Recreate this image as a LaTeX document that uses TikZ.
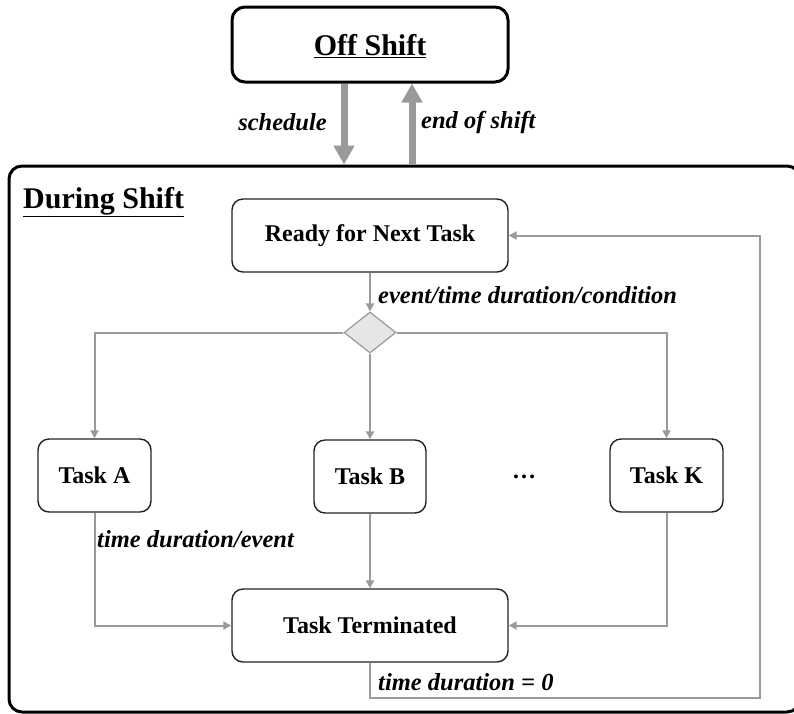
\documentclass[tikz,border=0pt]{standalone}
\usepackage{fontspec}
\setmainfont{Liberation Serif}
\usetikzlibrary{arrows.meta,shapes.geometric,calc}
\definecolor{linegray}{HTML}{9A9A9A}
\definecolor{boxline}{HTML}{222222}
\definecolor{diafill}{HTML}{E6E6E6}
\tikzset{
  bigbox/.style={draw=black, line width=3pt, rounded corners=13pt, fill=white},
  statebox/.style={draw=boxline, line width=1.4pt, rounded corners=11pt, fill=white,
    inner sep=0pt, font=\fontsize{24}{28}\selectfont\bfseries},
  conn/.style={draw=linegray, line width=2pt, -{Triangle[width=8pt,length=8pt]}},
  fatarrow/.style={draw=linegray, line width=7pt, -{Triangle[width=20pt,length=19pt]}},
  lbl/.style={inner sep=0pt, font=\fontsize{24.5}{28}\selectfont\bfseries\itshape},
  hdr/.style={inner sep=0pt, font=\fontsize{30}{34}\selectfont\bfseries},
  decision/.style={diamond, draw=linegray, line width=1.2pt, fill=diafill,
    minimum width=52pt, minimum height=41pt, inner sep=0pt}
}
\begin{document}
\begin{tikzpicture}[x=1pt,y=-1pt]
\useasboundingbox (0,0) rectangle (794,713);
\clip (0,0) rectangle (794,713);
% outer boxes
\node[bigbox, minimum width=791pt, minimum height=546pt, inner sep=0pt] (during) at (404.5,439) {};
\node[bigbox, minimum width=276pt, minimum height=75pt, inner sep=0pt] (off) at (370,44.5) {};
\node[hdr] (offlbl) at (370,46) {\underline{Off Shift}};
\node[hdr, anchor=west] (durlbl) at (23,202) {\underline{During Shift}};
% shift arrows
\coordinate (schx) at (344,0);
\coordinate (eosx) at (412,0);
\draw[fatarrow] (schx |- off.south) -- (schx |- during.north);
\draw[fatarrow] (eosx |- during.north) -- (eosx |- off.south);
\node[lbl, anchor=east] (schlbl) at (327,122) {schedule};
\node[lbl, anchor=west] (eoslbl) at (421,122) {end of shift};
% states
\node[statebox, minimum width=276pt, minimum height=73pt] (ready) at (370,235.5) {Ready for Next Task};
\node[decision] (dia) at (370,332.5) {};
\node[statebox, minimum width=113pt, minimum height=73pt] (A) at (94.5,475.5) {Task A};
\node[statebox, minimum width=112pt, minimum height=73pt] (B) at (370,476.5) {Task B};
\node[statebox, minimum width=113pt, minimum height=73pt] (K) at (666.5,475.5) {Task K};
\node[font=\fontsize{24}{28}\selectfont\bfseries, inner sep=0pt] (dots) at (524,477) {…};
\node[statebox, minimum width=276pt, minimum height=73pt] (term) at (370,625.5) {Task Terminated};
% connectors
\draw[conn] (ready.south) -- (dia.north);
\node[lbl, anchor=west] (evlbl) at (378,295) {event/time duration/condition};
\draw[conn] (dia.west) -| (A.north);
\draw[conn] (dia.south) -- (B.north);
\draw[conn] (dia.east) -| (K.north);
\draw[conn] (A.south) |- (term.west);
\draw[conn] (B.south) -- (term.north);
\draw[conn] (K.south) |- (term.east);
\node[lbl, anchor=west] (tdelbl) at (97,539) {time duration/event};
\coordinate (loopbr) at (760,698);
\draw[conn] (term.south) |- (loopbr) |- (ready.east);
\node[lbl, anchor=west] (td0lbl) at (378,682) {time duration = 0};
\end{tikzpicture}
\end{document}
